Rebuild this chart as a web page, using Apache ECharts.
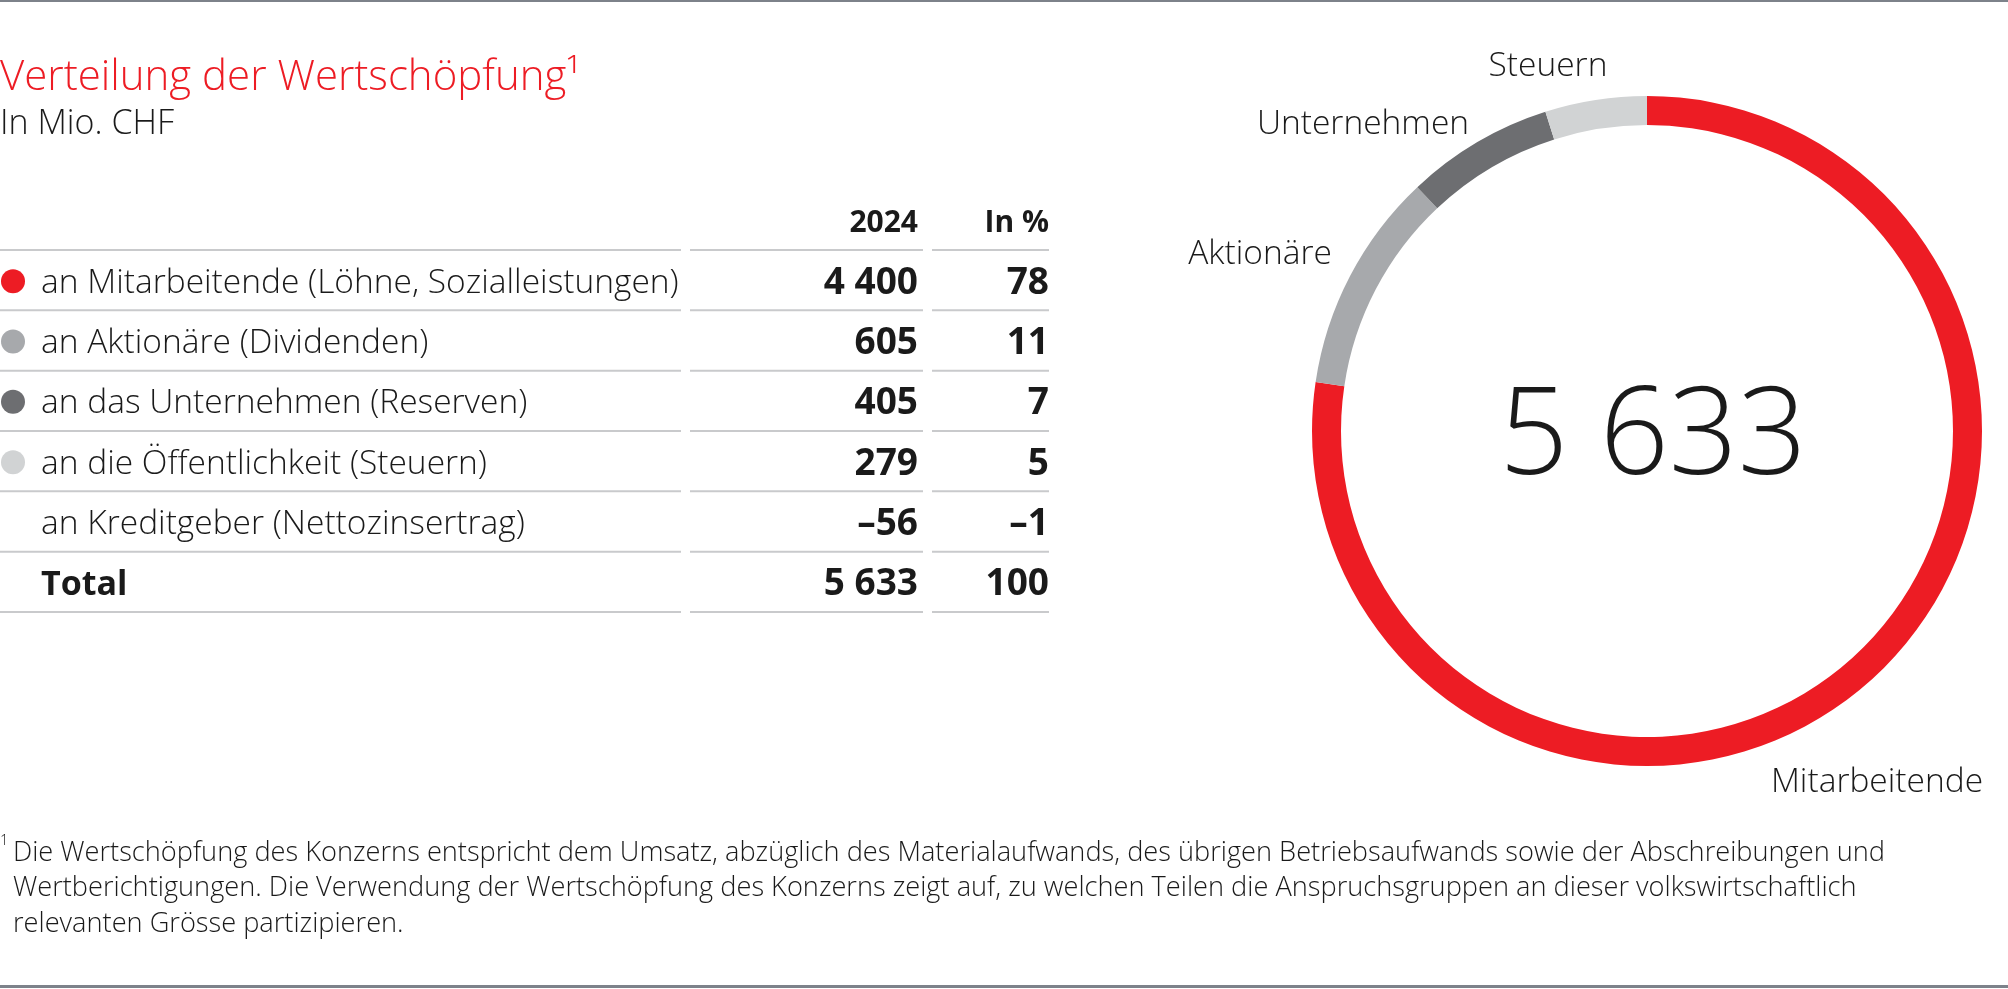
<!DOCTYPE html>
<html><head><meta charset="utf-8">
<script src="https://cdn.jsdelivr.net/npm/echarts@6/dist/echarts.min.js"></script>
<style>html,body{margin:0;padding:0;background:#fff;}#chart{width:2008px;height:989px;}</style>
</head><body><div id="chart"></div>
<script>
// ---------- data ----------
const titleText = 'Verteilung der Wertschöpfung';
const subtitleText = 'In Mio. CHF';
const headers = ['2024', 'In %'];
const categories = [
  'an Mitarbeitende (Löhne, Sozialleistungen)',
  'an Aktionäre (Dividenden)',
  'an das Unternehmen (Reserven)',
  'an die Öffentlichkeit (Steuern)',
  'an Kreditgeber (Nettozinsertrag)'
];
const values2024 = [4400, 605, 405, 279, -56];
const sharesPct = [78, 11, 7, 5, -1];
const totalLabel = 'Total';
const totalValue = 5633;
const totalPct = 100;
const donutNames = ['Mitarbeitende', 'Aktionäre', 'Unternehmen', 'Steuern'];
const donutValues = [4400, 605, 405, 279];
const footnoteLines = [
  'Die Wertschöpfung des Konzerns entspricht dem Umsatz, abzüglich des Materialaufwands, des übrigen Betriebsaufwands sowie der Abschreibungen und',
  'Wertberichtigungen. Die Verwendung der Wertschöpfung des Konzerns zeigt auf, zu welchen Teilen die Anspruchsgruppen an dieser volkswirtschaftlich',
  'relevanten Grösse partizipieren.'
];

// ---------- styles / layout ----------
const FONT = "'Open Sans', 'Noto Sans', sans-serif";
const RED = '#ed1c24';
const TEXT = '#1a1a1a';
const colors = ['#ed1c24', '#a7a9ac', '#6d6e71', '#d1d3d4'];
const rowDot = [0, 1, 2, 3, null];
const lineY0 = 250, rowStep = 60.33;
const segs = [[0, 681], [690, 923], [932, 1049]];
const colRight = [918, 1049];
const pieCenter = [1647, 431];
const labelPos = [[1877, 782], [1260, 254], [1363, 124], [1548, 66]];

function fmt(v) {
  const s = Math.abs(v).toString().replace(/\B(?=(\d{3})+(?!\d))/g, ' ');
  return (v < 0 ? '\u2013' : '') + s;
}

const g = [];
// rules
g.push({ type: 'rect', shape: { x: 0, y: 0, width: 2008, height: 2 }, style: { fill: '#7d828a' } });
g.push({ type: 'rect', shape: { x: 0, y: 985, width: 2008, height: 3 }, style: { fill: '#7d828a' } });
// title
g.push({ type: 'text', x: 0, y: 78, style: { text: titleText + '\u00b9', fill: RED, font: `300 42px ${FONT}`, verticalAlign: 'middle' } });
g.push({ type: 'text', x: 0, y: 124, style: { text: subtitleText, fill: TEXT, font: `300 34px ${FONT}`, verticalAlign: 'middle' } });
// headers
headers.forEach((h, i) => g.push({ type: 'text', x: colRight[i], y: 223, style: { text: h, fill: TEXT, font: `bold 30px ${FONT}`, align: 'right', verticalAlign: 'middle' } }));
// lines
for (let k = 0; k <= categories.length + 1; k++) {
  const y = lineY0 + k * rowStep;
  segs.forEach(s => g.push({ type: 'rect', shape: { x: s[0], y: y - 1, width: s[1] - s[0], height: 2 }, style: { fill: '#c9cacc' } }));
}
// rows
categories.forEach((c, i) => {
  const y = lineY0 + rowStep / 2 + i * rowStep;
  if (rowDot[i] !== null) g.push({ type: 'circle', shape: { cx: 13, cy: y + 1, r: 12 }, style: { fill: colors[rowDot[i]] } });
  g.push({ type: 'text', x: 41, y: y + 3, style: { text: c, fill: TEXT, font: `300 33.5px ${FONT}`, verticalAlign: 'middle' } });
  g.push({ type: 'text', x: colRight[0], y: y + 3, style: { text: fmt(values2024[i]), fill: TEXT, font: `bold 37px ${FONT}`, align: 'right', verticalAlign: 'middle' } });
  g.push({ type: 'text', x: colRight[1], y: y + 3, style: { text: fmt(sharesPct[i]), fill: TEXT, font: `bold 37px ${FONT}`, align: 'right', verticalAlign: 'middle' } });
});
{
  const y = lineY0 + rowStep / 2 + categories.length * rowStep;
  g.push({ type: 'text', x: 41, y: y + 3, style: { text: totalLabel, fill: TEXT, font: `bold 34px ${FONT}`, verticalAlign: 'middle' } });
  g.push({ type: 'text', x: colRight[0], y: y + 3, style: { text: fmt(totalValue), fill: TEXT, font: `bold 37px ${FONT}`, align: 'right', verticalAlign: 'middle' } });
  g.push({ type: 'text', x: colRight[1], y: y + 3, style: { text: fmt(totalPct), fill: TEXT, font: `bold 37px ${FONT}`, align: 'right', verticalAlign: 'middle' } });
}
// center number
g.push({ type: 'text', x: pieCenter[0] + 6, y: pieCenter[1] + 9, style: { text: fmt(totalValue), fill: TEXT, font: `300 121px ${FONT}`, align: 'center', verticalAlign: 'middle' } });
// footnote
g.push({ type: 'text', x: 0, y: 841, style: { text: '1', fill: TEXT, font: `300 15px ${FONT}`, verticalAlign: 'middle' } });
footnoteLines.forEach((t, i) => g.push({ type: 'text', x: 13, y: 853 + i * 35.5, style: { text: t, fill: TEXT, font: `300 27.2px ${FONT}`, verticalAlign: 'middle' } }));

const chart = echarts.init(document.getElementById('chart'), null, { renderer: 'canvas' });
chart.setOption({
  animation: false,
  backgroundColor: '#fff',
  color: colors,
  graphic: g,
  series: [{
    type: 'pie',
    center: pieCenter,
    radius: [306, 335],
    startAngle: 90,
    clockwise: true,
    silent: true,
    avoidLabelOverlap: false,
    data: donutNames.map((n, i) => ({ name: n, value: donutValues[i], itemStyle: { color: colors[i] } })),
    label: { show: true, position: 'outside', formatter: '{b}', color: TEXT, fontFamily: FONT, fontWeight: 300, fontSize: 33.5 },
    labelLine: { show: false },
    labelLayout: function (p) {
      const pos = labelPos[p.dataIndex];
      return { x: pos[0], y: pos[1], align: 'center', verticalAlign: 'middle' };
    }
  }]
});
</script></body></html>
